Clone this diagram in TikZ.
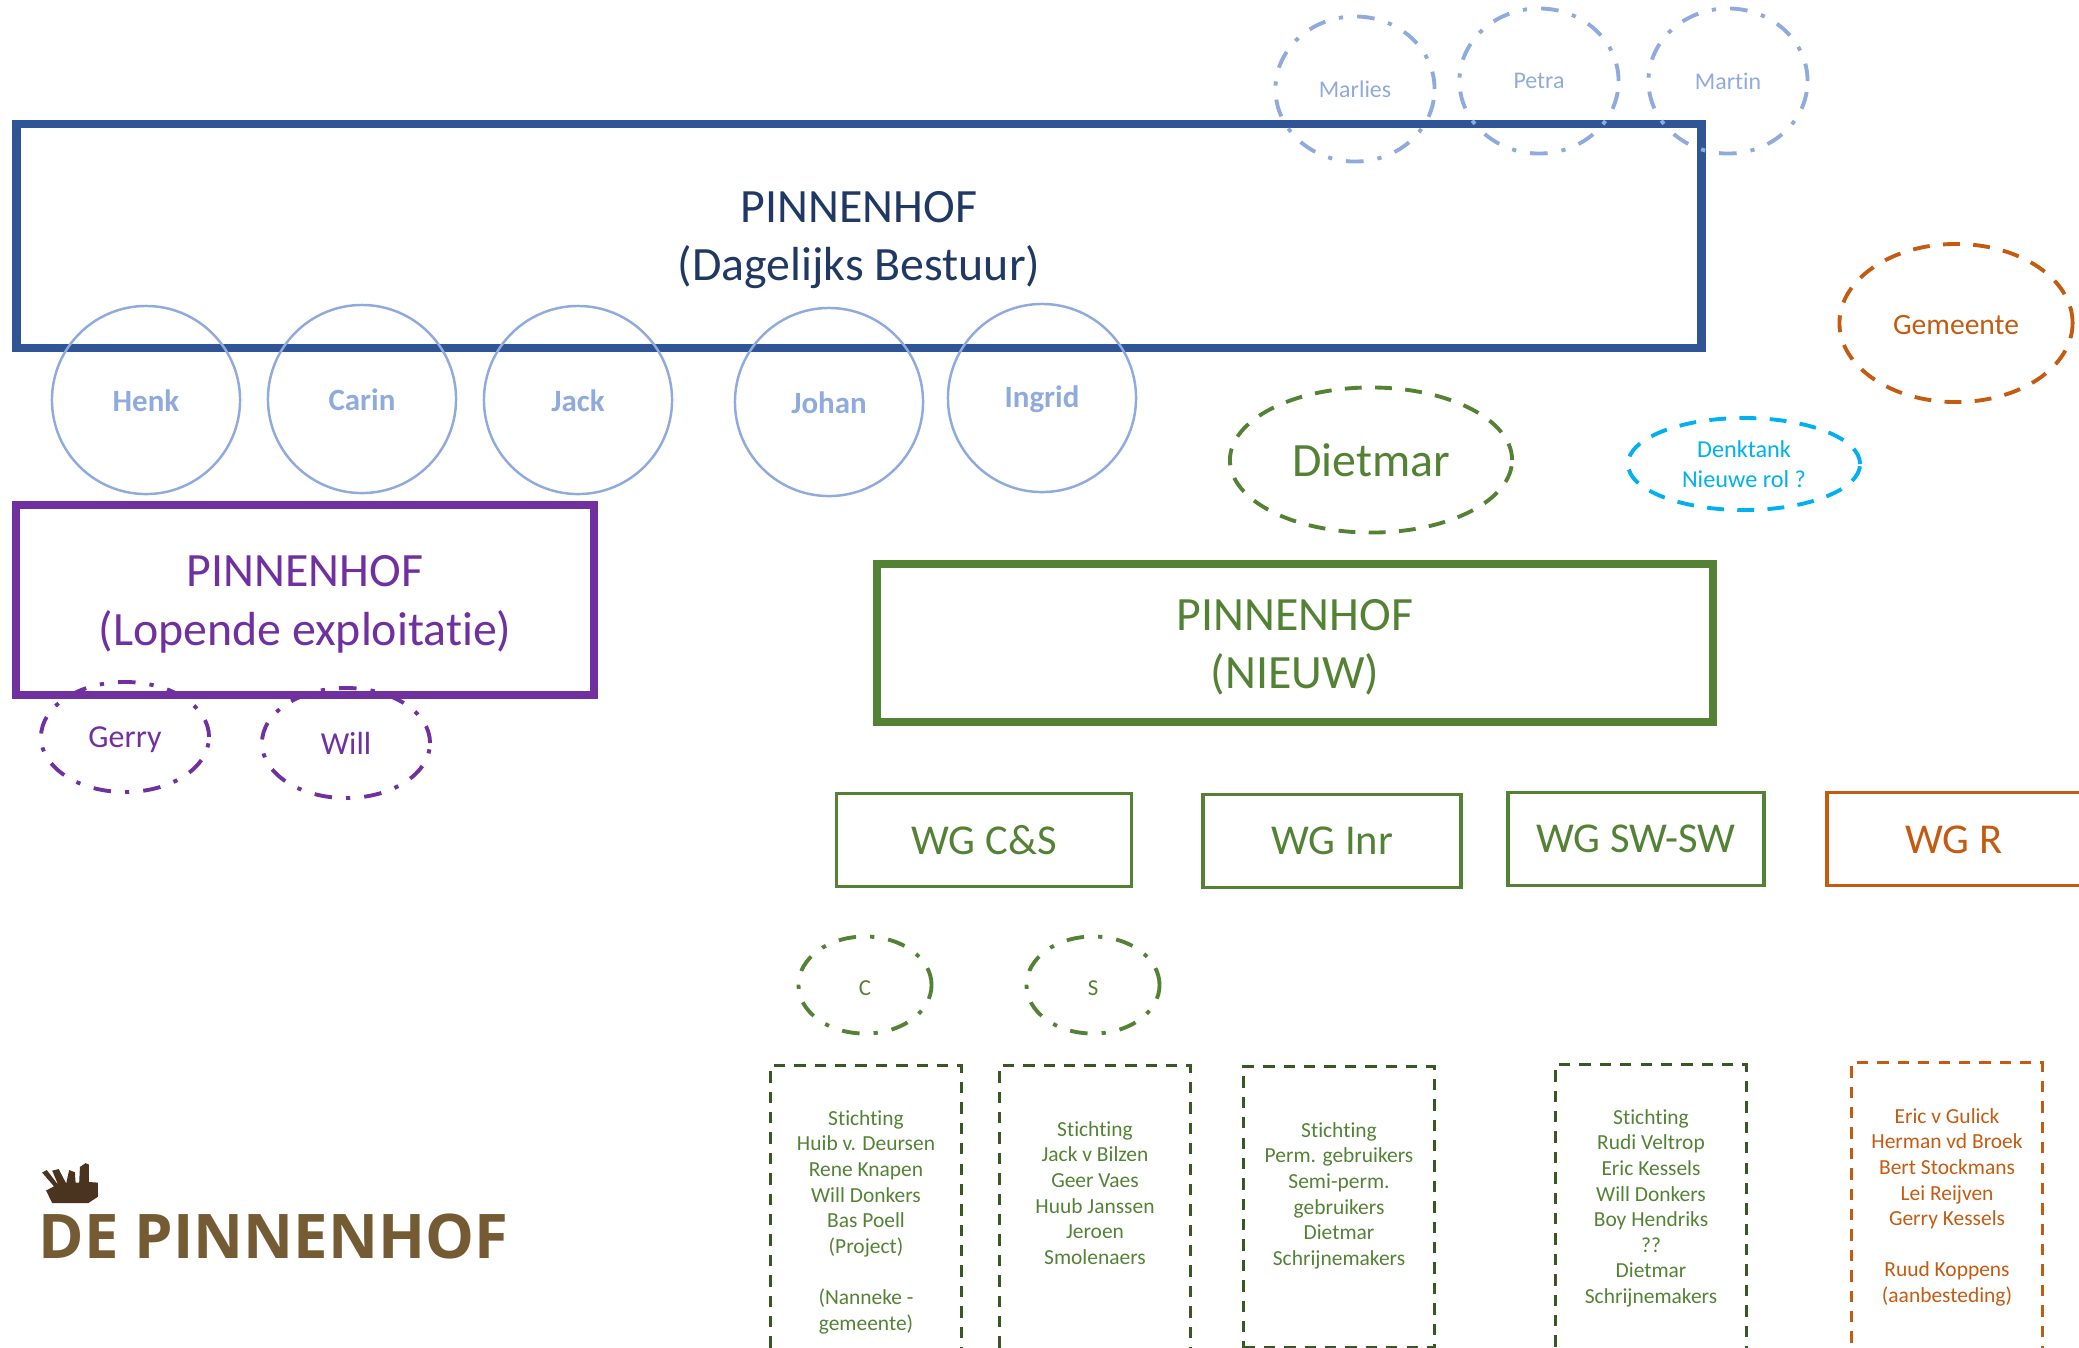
\documentclass[tikz,border=0pt]{standalone}
\usepackage{fontspec}
\setmainfont[Ligatures=NoCommon]{Carlito}
\newfontfamily\logofont{Open Sans}
\usetikzlibrary{shapes}
\definecolor{bestuur}{HTML}{2F5597}
\definecolor{bestuurtxt}{HTML}{203864}
\definecolor{lichtblauw}{HTML}{8FAADC}
\definecolor{paars}{HTML}{7030A0}
\definecolor{groen}{HTML}{548235}
\definecolor{donkergroen}{HTML}{385723}
\definecolor{oranje}{HTML}{C55A11}
\definecolor{cyaan}{HTML}{00B0F0}
\definecolor{logobruin}{HTML}{755B33}
\definecolor{logodonker}{HTML}{4A3420}
\newcommand{\fs}[1]{\fontsize{#1}{1.22\dimexpr#1pt\relax}\selectfont}
\newcommand{\klein}{\fontsize{6.1}{7.28}\selectfont}
\newcommand{\hoofdstrut}{\rule{0pt}{11.3pt}}
\tikzset{
  hoofd/.style={draw=#1,text=#1,line width=2.3pt,align=center,inner sep=0pt,font=\fs{13.6}},
  wg/.style={draw=#1,text=#1,line width=1.05pt,align=center,inner sep=0pt,font=\fs{12.1}},
  lid/.style={circle,draw=lichtblauw,text=lichtblauw,line width=0.7pt,minimum size=1.88cm,inner sep=0pt,font=\fs{8.8}\bfseries},
  stip/.style={ellipse,draw=#1,text=#1,line width=1.1pt,inner sep=0pt,align=center,
    dash pattern=on 5pt off 4pt on 1.2pt off 4pt},
  streep/.style={ellipse,draw=#1,text=#1,line width=1.1pt,inner sep=0pt,align=center,
    dash pattern=on 4.8pt off 3.8pt},
  lijst/.style={draw=#1,line width=0.9pt,inner sep=0pt,
    dash pattern=on 3.2pt off 2.6pt,minimum width=1.91cm},
  lijsttxt/.style={text=#1,align=center,font=\klein,anchor=north},
}
\begin{document}
\begin{tikzpicture}[x=0.01cm,y=-0.01cm]
\useasboundingbox (0,0) rectangle (2079,1347);
\clip (0,0) rectangle (2079,1347);
\node[hoofd=bestuur,text=bestuurtxt,minimum width=16.84cm,minimum height=2.24cm](bestuur) at (859,236){\hoofdstrut PINNENHOF\\(Dagelijks Bestuur)};
\node[hoofd=paars,minimum width=5.78cm,minimum height=1.9cm](exploitatie) at (305,600){\hoofdstrut PINNENHOF\\(Lopende exploitatie)};
\node[hoofd=groen,minimum width=8.36cm,minimum height=1.58cm](nieuw) at (1295,643){\hoofdstrut PINNENHOF\\(NIEUW)};

\node[lid](henk) at (146,400){\rule{0pt}{6.6pt}Henk};
\node[lid](carin) at (362,399){\rule{0pt}{6.6pt}Carin};
\node[lid](jack) at (578,400){\rule{0pt}{6.6pt}Jack};
\node[lid](johan) at (829,402){\rule{0pt}{6.6pt}Johan};
\node[lid](ingrid) at (1042,398){\rule{0pt}{6.6pt}Ingrid};

\node[stip=lichtblauw,minimum width=1.59cm,minimum height=1.45cm,font=\fs{6.8}](marlies) at (1355,89){Marlies};
\node[stip=lichtblauw,minimum width=1.59cm,minimum height=1.45cm,font=\fs{6.8}](petra) at (1539,81){Petra};
\node[stip=lichtblauw,minimum width=1.59cm,minimum height=1.45cm,font=\fs{6.8}](martin) at (1728,81){Martin};

\node[streep=oranje,minimum width=2.33cm,minimum height=1.58cm,font=\fs{8.4}](gemeente) at (1956,323){\rule{0pt}{6.7pt}Gemeente};
\node[streep=groen,minimum width=2.82cm,minimum height=1.45cm,font=\fs{13.6}](dietmar) at (1371,460){Dietmar};
\node[streep=cyaan,minimum width=2.32cm,minimum height=0.92cm,font=\fs{6.9}](denktank) at (1744,464){Denktank\\Nieuwe rol ?};

\node[stip=paars,minimum width=1.68cm,minimum height=1.1cm,font=\fs{9.1},text depth=0pt](gerry) at (125,737){Gerry};
\node[stip=paars,minimum width=1.68cm,minimum height=1.1cm,font=\fs{9.1}](will) at (346,743){Will};

\node[wg=groen,minimum width=2.95cm,minimum height=0.93cm](wgcs) at (984,840){WG C\&S};
\node[wg=groen,minimum width=2.58cm,minimum height=0.93cm](wginr) at (1332,841){WG Inr};
\node[wg=groen,minimum width=2.56cm,minimum height=0.93cm](wgsw) at (1636,839){WG SW-SW};
\node[wg=oranje,minimum width=3.0cm,minimum height=0.93cm,anchor=west](wgr) at (1825,839){};
\node[text=oranje,font=\fs{12.1}](wgrtxt) at (1954,840){WG R};

\node[stip=groen,minimum width=1.33cm,minimum height=0.97cm,font=\fs{6.5}](c) at (865,985){\rule{0pt}{6pt}C};
\node[stip=groen,minimum width=1.33cm,minimum height=0.97cm,font=\fs{6.5}](s) at (1093,985){\rule{0pt}{6pt}S};

% werkgroepen
\node[lijst=donkergroen,minimum height=2.85cm,anchor=north](lijstc) at (866,1064){};
\node[lijst=donkergroen,minimum height=2.85cm,anchor=north](lijsts) at (1095,1064){};
\node[lijst=donkergroen,minimum height=2.81cm,anchor=north](lijstinr) at (1339,1065){};
\node[lijst=donkergroen,minimum height=2.85cm,anchor=north](lijstsw) at (1651,1063){};
\node[lijst=oranje,minimum height=2.87cm,anchor=north](lijstr) at (1947,1061){};

\node[lijsttxt=groen](txtc) at (866,1098){Stichting\\Huib v. Deursen\\Rene Knapen\\Will Donkers\\Bas Poell\\(Project)\\[7.28pt](Nanneke -\\gemeente)};
\node[lijsttxt=groen](txts) at (1095,1109){Stichting\\Jack v Bilzen\\Geer Vaes\\Huub Janssen\\Jeroen\\Smolenaers};
\node[lijsttxt=groen](txtinr) at (1339,1110){Stichting\\Perm. gebruikers\\Semi-perm.\\gebruikers\\Dietmar\\Schrijnemakers};
\node[lijsttxt=groen](txtsw) at (1651,1097){Stichting\\Rudi Veltrop\\Eric Kessels\\Will Donkers\\Boy Hendriks\\??\\Dietmar\\Schrijnemakers};
\node[lijsttxt=oranje](txtr) at (1947,1096){Eric v Gulick\\Herman vd Broek\\Bert Stockmans\\Lei Reijven\\Gerry Kessels\\[7.28pt]Ruud Koppens\\(aanbesteding)};

% logo
\node[text=logobruin,font=\logofont\fontsize{17.5}{21}\selectfont\bfseries,anchor=west,inner sep=0pt](logo) at (38,1236){DE PINNENHOF};
\begin{scope}[shift={(0,1107)},xscale=0.36,yscale=0.315]
\fill[logodonker] (128,265) -- (150,252) -- (117,208) -- (130,200) -- (162,248) -- (145,202) -- (163,197) -- (184,243) -- (192,200) -- (208,207) -- (210,240) -- (220,240) -- (222,190) -- (238,178) -- (247,183) -- (247,238) -- (272,240) -- (272,285) -- (245,305) -- (145,305) -- cycle;
\end{scope}
\end{tikzpicture}
\end{document}
